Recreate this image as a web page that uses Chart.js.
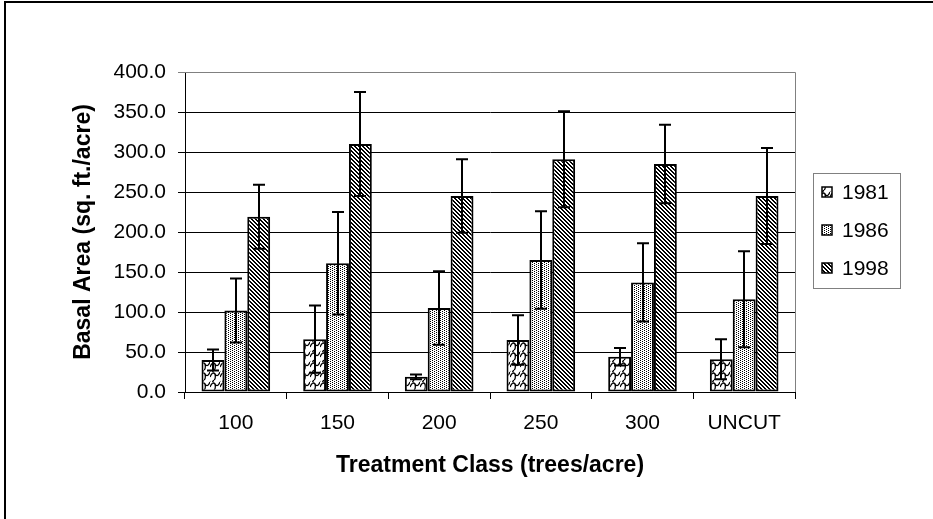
<!DOCTYPE html>
<html>
<head>
<meta charset="utf-8">
<script src="https://cdn.jsdelivr.net/npm/chart.js@4"></script>
<style>
  body { margin: 0; background: #fff; }
  canvas { display: block; }
</style>
</head>
<body>
<canvas id="chart" width="933" height="519"></canvas>
<script>
// datos
const categories = ['100', '150', '200', '250', '300', 'UNCUT'];
const years = ['1981', '1986', '1998'];
const ba1981 = [40, 66, 19, 65, 44, 41];
const ba1986 = [102, 161, 105, 165, 137, 116];
const ba1998 = [219, 310, 245, 291, 285, 245];
const err1981 = [13, 42, 3, 31, 11, 25];
const err1986 = [40, 64, 46, 61, 49, 60];
const err1998 = [40, 65, 46, 60, 49, 60];

const FONT = "'Liberation Sans', Arial, sans-serif";

// --- tramas (patterns) en blanco y negro ---
function makeTile(w, h, draw) {
    const c = document.createElement('canvas');
    c.width = w; c.height = h;
    const g = c.getContext('2d');
    g.fillStyle = '#fff';
    g.fillRect(0, 0, w, h);
    g.fillStyle = '#000';
    g.strokeStyle = '#000';
    draw(g);
    return c;
}
const ctxMain = document.getElementById('chart').getContext('2d');

const waveTile = makeTile(10, 10, (g) => {
    g.lineWidth = 1.3;
    g.beginPath();
    g.moveTo(0, 7); g.quadraticCurveTo(2.5, 1, 5, 4); g.quadraticCurveTo(7.5, 8, 10, 2);
    g.moveTo(0, 2); g.lineTo(-1, 0);
    g.moveTo(5, 4); g.quadraticCurveTo(6, 9, 4, 10);
    g.moveTo(4, 0); g.quadraticCurveTo(3, 1, 2.5, 2);
    g.stroke();
});
const dotTile = makeTile(4, 2, (g) => {
    g.fillRect(0, 0, 1, 1);
    g.fillRect(2, 1, 1, 1);
});
const diagTile = makeTile(4, 4, (g) => {
    for (let i = 0; i < 4; i++) g.fillRect(i, i, 1, 1);
    for (let i = 0; i < 4; i++) g.fillRect((i + 1) % 4, i, 1, 1);
});
const patterns = [
    ctxMain.createPattern(waveTile, 'repeat'),
    ctxMain.createPattern(dotTile, 'repeat'),
    ctxMain.createPattern(diagTile, 'repeat')
];
const errors = [err1981, err1986, err1998];

// barras de error
const errorBars = {
    id: 'errorBars',
    afterDatasetsDraw(chart) {
        const { ctx, scales: { y } } = chart;
        ctx.save();
        ctx.strokeStyle = '#000';
        ctx.lineWidth = 2;
        chart.data.datasets.forEach((ds, di) => {
            const meta = chart.getDatasetMeta(di);
            meta.data.forEach((bar, i) => {
                const v = ds.data[i], e = errors[di][i];
                const top = y.getPixelForValue(v + e);
                const bot = y.getPixelForValue(Math.max(0, v - e));
                const x = Math.round(bar.x);
                ctx.beginPath();
                ctx.moveTo(x, top); ctx.lineTo(x, bot);
                ctx.moveTo(x - 6, top); ctx.lineTo(x + 6, top);
                ctx.moveTo(x - 6, bot); ctx.lineTo(x + 6, bot);
                ctx.stroke();
            });
        });
        ctx.restore();
    }
};

// marco exterior, borde del area y leyenda
const frameAndLegend = {
    id: 'frameAndLegend',
    afterDraw(chart) {
        const { ctx, chartArea: a } = chart;
        ctx.save();
        ctx.strokeStyle = '#000';
        ctx.lineWidth = 2;
        ctx.beginPath();
        ctx.moveTo(5, 519); ctx.lineTo(5, 2); ctx.lineTo(933, 2);
        ctx.stroke();

        ctx.strokeStyle = '#808080';
        ctx.lineWidth = 1;
        ctx.beginPath();
        ctx.moveTo(a.left, a.top + 0.5); ctx.lineTo(a.right + 0.5, a.top + 0.5); ctx.lineTo(a.right + 0.5, a.bottom);
        ctx.stroke();

        // leyenda
        ctx.strokeRect(813.5, 173.5, 87, 115);
        ctx.font = '21px ' + FONT;
        ctx.textBaseline = 'middle';
        chart.data.datasets.forEach((ds, i) => {
            const cy = 192 + i * 38;
            ctx.fillStyle = patterns[i];
            ctx.fillRect(822, cy - 5, 10, 10);
            ctx.strokeStyle = '#000';
            ctx.lineWidth = 1.5;
            ctx.strokeRect(822, cy - 5, 10, 10);
            ctx.fillStyle = '#000';
            ctx.fillText(ds.label, 842, cy + 1);
        });
        ctx.restore();
    }
};

new Chart(ctxMain, {
    type: 'bar',
    data: {
        labels: categories,
        datasets: [ba1981, ba1986, ba1998].map((d, i) => ({
            label: years[i],
            data: d,
            backgroundColor: patterns[i],
            borderColor: '#000',
            borderWidth: 2,
            borderSkipped: false,
            categoryPercentage: 0.675,
            barPercentage: 1.0
        }))
    },
    options: {
        responsive: false,
        animation: false,
        layout: { padding: { left: 70, top: 72, right: 138, bottom: 40 } },
        plugins: { legend: { display: false }, tooltip: { enabled: false } },
        scales: {
            x: {
                grid: { drawOnChartArea: false, drawTicks: true, tickLength: 7, color: '#000', lineWidth: 1 },
                border: { color: '#000', width: 1 },
                ticks: { color: '#000', font: { family: FONT, size: 21 }, padding: 12 },
                title: { display: true, text: 'Treatment Class (trees/acre)', color: '#000', font: { family: FONT, size: 23, weight: 'bold' }, padding: 0 },
                afterFit(scale) { scale.height = 87; }
            },
            y: {
                min: 0, max: 400,
                grid: {
                    color: (c) => (c.tick && c.tick.value === 400 ? '#808080' : '#000'),
                    tickLength: 7, lineWidth: 1
                },
                border: { color: '#000', width: 1 },
                ticks: {
                    stepSize: 50, color: '#000', padding: 12,
                    font: { family: FONT, size: 21 },
                    callback: (v) => Number(v).toFixed(1)
                },
                title: { display: true, text: 'Basal Area (sq. ft./acre)', color: '#000', font: { family: FONT, size: 23, weight: 'bold' }, padding: 0 },
                afterFit(scale) { scale.width = 115; }
            }
        }
    },
    plugins: [errorBars, frameAndLegend]
});
</script>
</body>
</html>
